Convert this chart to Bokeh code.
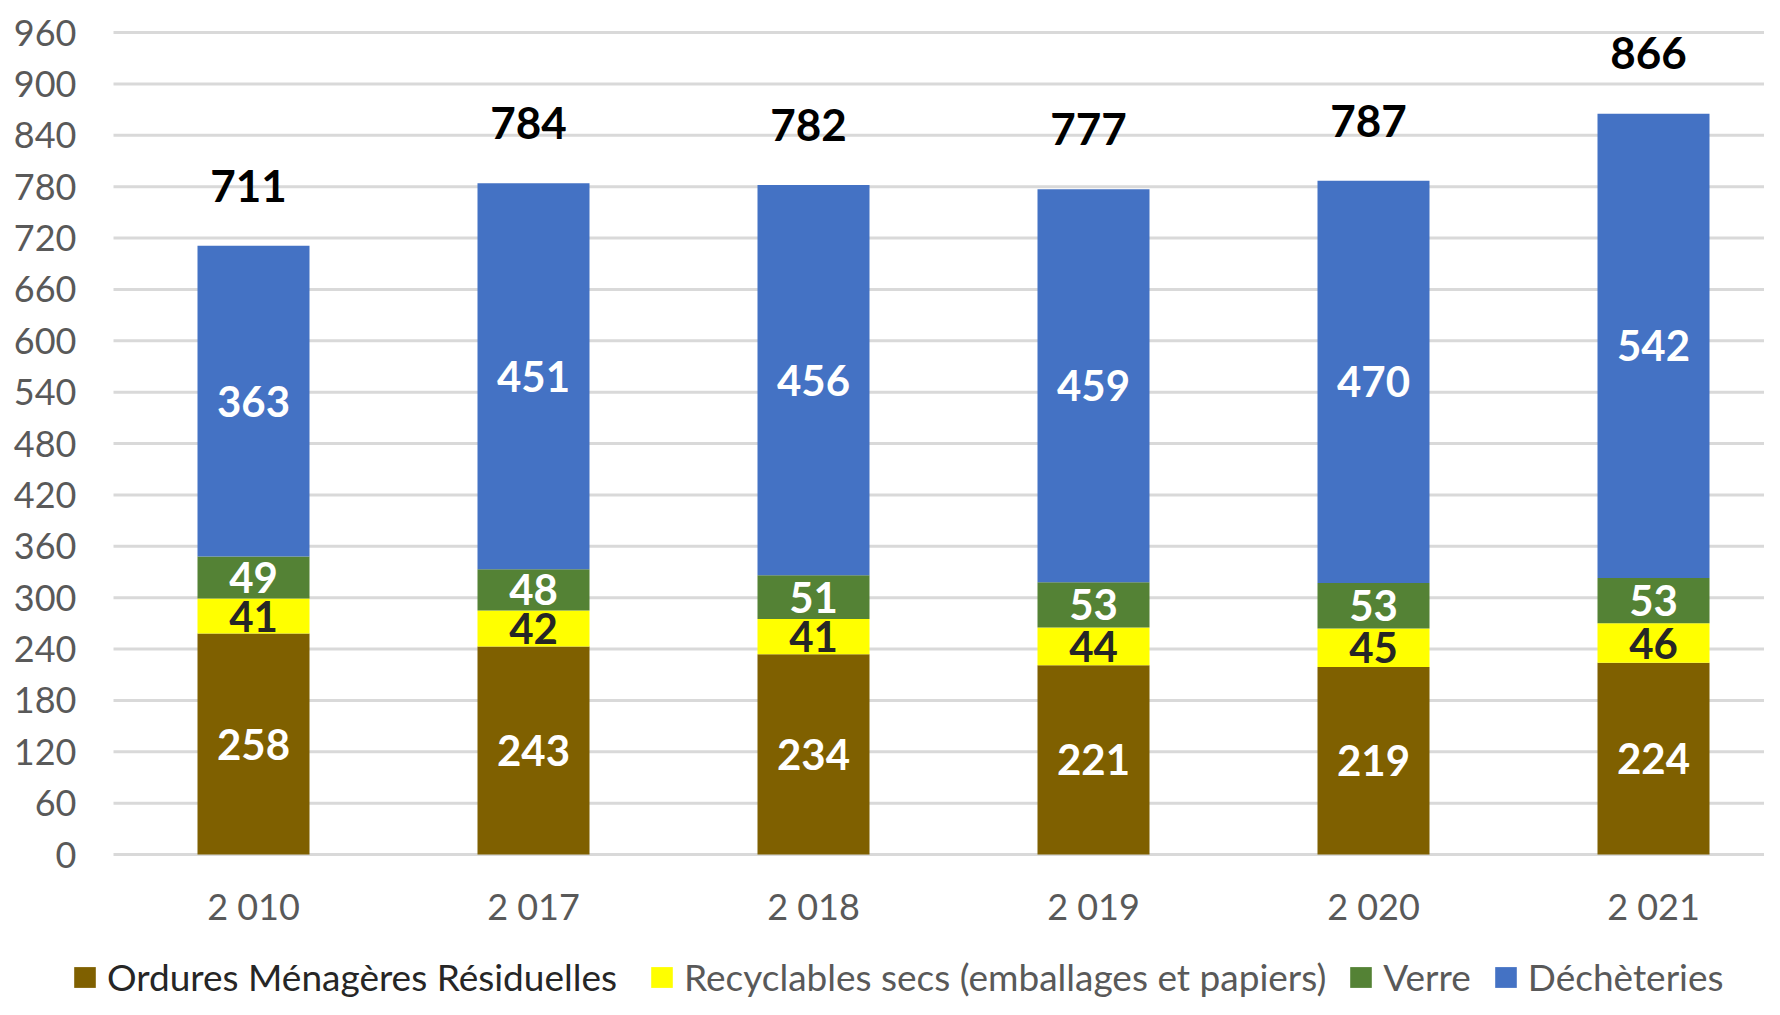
from bokeh.plotting import figure
from bokeh.models import ColumnDataSource, Range1d, Legend, LegendItem
from bokeh.core.properties import value
from bokeh.embed import file_html
from bokeh.resources import INLINE

# ---- data ----
years = ["2 010", "2 017", "2 018", "2 019", "2 020", "2 021"]
omr = [258, 243, 234, 221, 219, 224]
recyclables = [41, 42, 41, 44, 45, 46]
verre = [49, 48, 51, 53, 53, 53]
decheteries = [363, 451, 456, 459, 470, 542]
totals = [711, 784, 782, 777, 787, 866]
series_names = ["Ordures Ménagères Résiduelles",
                "Recyclables secs (emballages et papiers)",
                "Verre", "Déchèteries"]
y_ticks = list(range(0, 961, 60))

colors = ["#7F6000", "#FFFF00", "#548235", "#4472C4"]
label_colors = ["#FFFFFF", "#262626", "#FFFFFF", "#FFFFFF"]
FONT = "Lato"

# ---- layout geometry (screen px) ----
W, H = 1764, 999
PLOT_LEFT, FIRST_CENTER, STEP = 113, 253, 280      # x
Y_TOP_PX, Y_ZERO_PX, Y_MAX = 32, 854, 960           # y
ppu = (Y_ZERO_PX - Y_TOP_PX) / Y_MAX
x_start = -FIRST_CENTER / STEP
x_end = (W - FIRST_CENTER) / STEP
x_grid0 = (PLOT_LEFT - FIRST_CENTER) / STEP
y_start = -(H - Y_ZERO_PX) / ppu
y_end = Y_MAX + Y_TOP_PX / ppu

xs = list(range(len(years)))
keys = ["omr", "rec", "verre", "dech"]
series = [omr, recyclables, verre, decheteries]
src = ColumnDataSource(dict(x=xs, omr=omr, rec=recyclables, verre=verre, dech=decheteries))

p = figure(width=W, height=H, output_backend="svg", toolbar_location=None,
           x_range=Range1d(x_start, x_end), y_range=Range1d(y_start, y_end),
           x_axis_location=None, y_axis_location=None,
           min_border=0)
p.background_fill_color = "white"
p.border_fill_color = "white"
p.outline_line_color = None
p.grid.visible = False

# gridlines
p.segment(x0=[x_grid0] * len(y_ticks), x1=[x_end] * len(y_ticks), y0=y_ticks, y1=y_ticks,
          line_color="#D9D9D9", line_width=3)

# y tick labels
p.text(x=[x_grid0] * len(y_ticks), y=y_ticks, text=[str(t) for t in y_ticks],
       x_offset=-37, text_align="right", text_baseline="middle",
       text_font=value(FONT), text_font_size="36px", text_color="#595959")

# x tick labels
p.text(x=xs, y=[0] * len(xs), text=years, y_offset=51, text_align="center",
       text_baseline="middle", text_font=value(FONT), text_font_size="36px",
       text_color="#595959")

rs = p.vbar_stack(keys, x="x", width=0.4, color=colors, source=src, line_color=None)

# segment labels
bottom = [0] * len(xs)
for vals, col in zip(series, label_colors):
    mids = [b + v / 2 for b, v in zip(bottom, vals)]
    p.text(x=xs, y=mids, text=[str(v) for v in vals], text_align="center",
           text_baseline="middle", text_font=value(FONT), text_font_style="bold",
           text_font_size="42px", text_color=col)
    bottom = [b + v for b, v in zip(bottom, vals)]

# totals
p.text(x=xs, y=totals, text=[str(t) for t in totals], text_align="center",
       text_baseline="middle", y_offset=-60, x_offset=-5, text_font=value(FONT),
       text_font_style="bold", text_font_size="44px", text_color="#000000")


def make_legend(items, loc, color):
    return Legend(items=items, location=loc, orientation="horizontal",
                  label_text_font=FONT, label_text_font_size="37px",
                  label_text_color=color, glyph_width=27, glyph_height=26,
                  label_standoff=9, spacing=21, padding=0, margin=0,
                  border_line_color=None, background_fill_alpha=0)


leg1 = make_legend([LegendItem(label=series_names[0], renderers=[rs[0]])], (71, 0), "#262626")
leg2 = make_legend([LegendItem(label=series_names[i], renderers=[rs[i]]) for i in (1, 2, 3)],
                   (648, 0), "#595959")
p.add_layout(leg1, "center")
p.add_layout(leg2, "center")

open("out.html", "w").write(file_html(p, INLINE))
